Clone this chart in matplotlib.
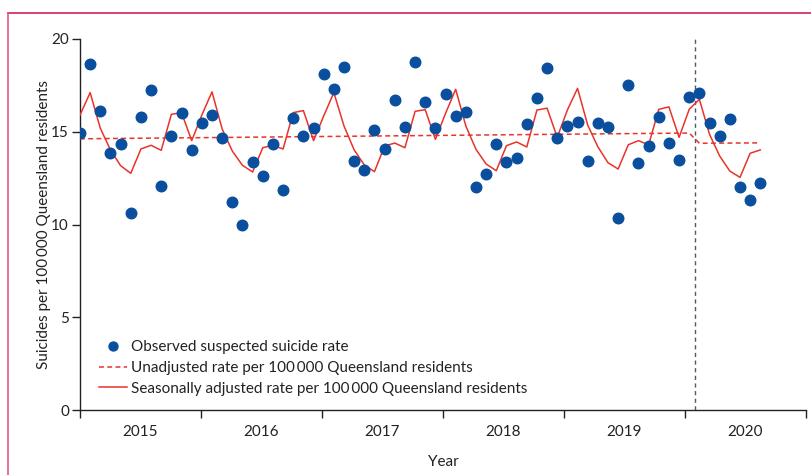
import matplotlib
matplotlib.use("Agg")
import matplotlib.pyplot as plt
from matplotlib.lines import Line2D

plt.rcParams['font.family'] = ['Lato', 'DejaVu Sans']

# Monthly index (0 = Jan 2015)
observed = [14.93, 18.64, 16.14, 13.87, 14.36, 10.62, 15.81, 17.27, 12.07, 14.79,
            15.99, 14.01, 15.45, 15.92, 14.65, 11.23, 9.98, 13.38, 12.63, 14.32,
            11.87, 15.73, 14.77, 15.18, 18.10, 17.32, 18.51, 13.42, 12.92, 15.08,
            14.09, 16.70, 15.24, 18.78, 16.62, 15.19, 17.05, 15.83, 16.05, 12.00,
            12.70, 14.32, 13.35, 13.58, 15.43, 16.80, 18.42, 14.66, 15.33, 15.54,
            13.42, 15.49, 15.24, 10.36, 17.51, 13.33, 14.23, 15.81, 14.41, 13.49,
            16.89, 17.11, 15.49, 14.79, 15.67, 12.02, 11.32, 12.22]

seasonal = [15.90, 17.11, 15.19, 14.02, 13.17, 12.76, 14.07, 14.27, 14.00, 15.94,
            16.03, 14.52, 15.90, 17.15, 15.15, 13.96, 13.19, 12.83, 14.14, 14.27,
            14.07, 16.03, 16.14, 14.52, 15.85, 17.11, 15.31, 14.02, 13.21, 12.85,
            14.23, 14.39, 14.14, 16.10, 16.19, 14.59, 15.99, 17.29, 15.31, 14.05,
            13.26, 12.90, 14.25, 14.45, 14.18, 16.17, 16.27, 14.70, 16.17, 17.34,
            15.36, 14.19, 13.33, 12.99, 14.30, 14.52, 14.29, 16.21, 16.34, 14.70,
            16.21, 16.75, 14.86, 13.69, 12.88, 12.54, 13.84, 14.02]

# Unadjusted trend line vertices (month index, rate)
unadj_x = [0, 60, 61, 67]
unadj_y = [14.62, 14.93, 14.38, 14.40]

years = ['2015', '2016', '2017', '2018', '2019', '2020']
yticks = [0, 5, 10, 15, 20]
intervention_month = 60.6

BLUE = '#0a4f9e'
RED = '#e8332b'
TXT = '#222222'
FS = 11

fig = plt.figure(figsize=(8.11, 4.75), dpi=100)
ax = fig.add_axes([80/811, 1-410/475, 726/811, (410-39)/475])

months = list(range(len(observed)))
ax.plot(months, observed, linestyle='none', marker='o', markersize=7.6,
        color=BLUE, label='Observed suspected suicide rate', zorder=4)
ax.plot(unadj_x, unadj_y, linestyle=(0, (3.2, 2.2)), color=RED, lw=1.1,
        label='Unadjusted rate per 100\u2009000 Queensland residents', zorder=3)
ax.plot(months, seasonal, color=RED, lw=1.1,
        label='Seasonally adjusted rate per 100\u2009000 Queensland residents', zorder=3)
ax.axvline(intervention_month, color='#4d5b66', lw=1.0, linestyle=(0, (3, 2.5)), zorder=2)

xmax = 71.5
step = xmax / 6
ax.set_xlim(0, xmax)
ax.set_ylim(0, 20)
ax.set_xticks([k * step for k in range(7)])
ax.set_xticklabels([])
ax.set_xticks([(k + 0.5) * step for k in range(6)], minor=True)
ax.set_xticklabels(years, minor=True, fontsize=FS, color=TXT)
ax.tick_params(axis='x', which='major', direction='out', length=6, width=1.0, color=TXT)
ax.tick_params(axis='x', which='minor', length=0, pad=11)
ax.set_yticks(yticks)
ax.set_yticklabels([str(v) for v in yticks], fontsize=FS, color=TXT)
ax.tick_params(axis='y', direction='out', length=6, width=1.0, color=TXT, pad=2)

for s in ['top', 'right']:
    ax.spines[s].set_visible(False)
for s in ['left', 'bottom']:
    ax.spines[s].set_color(TXT)
    ax.spines[s].set_linewidth(1.0)

ax.set_xlabel('Year', fontsize=FS, color=TXT, labelpad=11)
ax.set_ylabel('Suicides per 100\u2009000 Queensland residents', fontsize=FS,
              color=TXT, labelpad=0)

leg = ax.legend(loc='upper left', bbox_to_anchor=(0.018, 0.205), frameon=False,
                fontsize=FS, handlelength=1.8, handletextpad=0.3,
                labelspacing=0.45, borderaxespad=0, markerscale=0.85,
                labelcolor=TXT)

# Journal frame
fig.add_artist(Line2D([8/811, 1.0], [1-12.5/475, 1-12.5/475], color='#d0245a', lw=1.2))
fig.add_artist(Line2D([8/811, 8/811], [0.0, 1-12.5/475], color='#dc5a86', lw=1.2))

fig.savefig('out.png', dpi=100)
